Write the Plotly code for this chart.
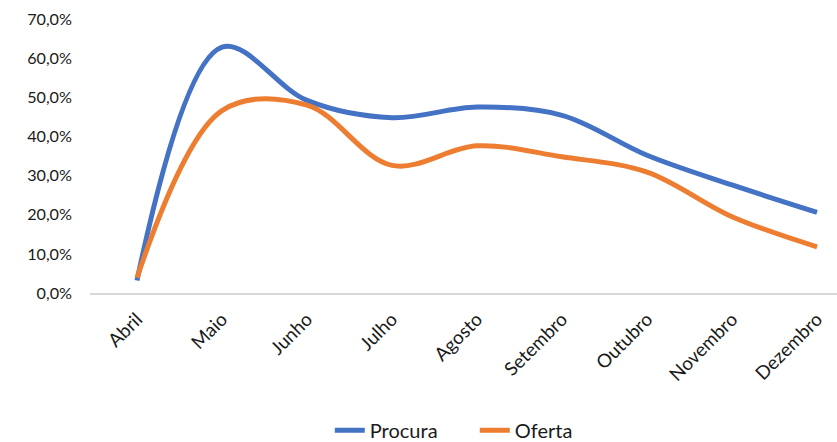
import plotly.graph_objects as go

months = ["Abril", "Maio", "Junho", "Julho", "Agosto", "Setembro", "Outubro", "Novembro", "Dezembro"]
procura = [3.2, 62.8, 49.2, 44.8, 47.5, 45.4, 35.2, 27.6, 20.6]
oferta = [3.9, 46.6, 48.0, 32.6, 37.6, 34.8, 30.9, 19.5, 11.8]
y_ticks = [0, 10, 20, 30, 40, 50, 60, 70]
y_tick_labels = ["0,0%", "10,0%", "20,0%", "30,0%", "40,0%", "50,0%", "60,0%", "70,0%"]

FONT = "Lato"
TXT = "#1a1a1a"

fig = go.Figure()
fig.add_trace(go.Scatter(x=months, y=procura, name="Procura", mode="lines",
                         line=dict(color="#4472C4", width=5, shape="spline", smoothing=1.0),
                         cliponaxis=False))
fig.add_trace(go.Scatter(x=months, y=oferta, name="Oferta", mode="lines",
                         line=dict(color="#ED7D31", width=5, shape="spline", smoothing=1.0),
                         cliponaxis=False))

fig.update_layout(
    width=837, height=442,
    margin=dict(l=90, r=0, t=18.5, b=148.7, autoexpand=False),
    paper_bgcolor="white", plot_bgcolor="white",
    font=dict(family=FONT, size=18.5, color=TXT),
    showlegend=True,
    legend=dict(orientation="h", x=0.321, xanchor="left", y=-0.501, yanchor="middle",
                font=dict(family=FONT, size=20, color=TXT), entrywidth=100,
                tracegroupgap=0),
    xaxis=dict(type="category", range=[-0.553, 8.235], showgrid=False, zeroline=False,
               showline=True, linecolor="#d9d9d9", linewidth=2, ticks="",
               tickangle=-45, tickfont=dict(family=FONT, size=18.8, color=TXT),
               ticklabelstandoff=6, automargin=False),
    yaxis=dict(range=[0, 70], tickvals=y_ticks, ticktext=y_tick_labels, showgrid=False,
               zeroline=False, showline=False, ticks="",
               tickfont=dict(family=FONT, size=16.2, color=TXT), ticklabelstandoff=17,
               automargin=False),
)

fig.write_html("out.html", post_script="document.body.style.margin='0';",
               config={"displayModeBar": False})
